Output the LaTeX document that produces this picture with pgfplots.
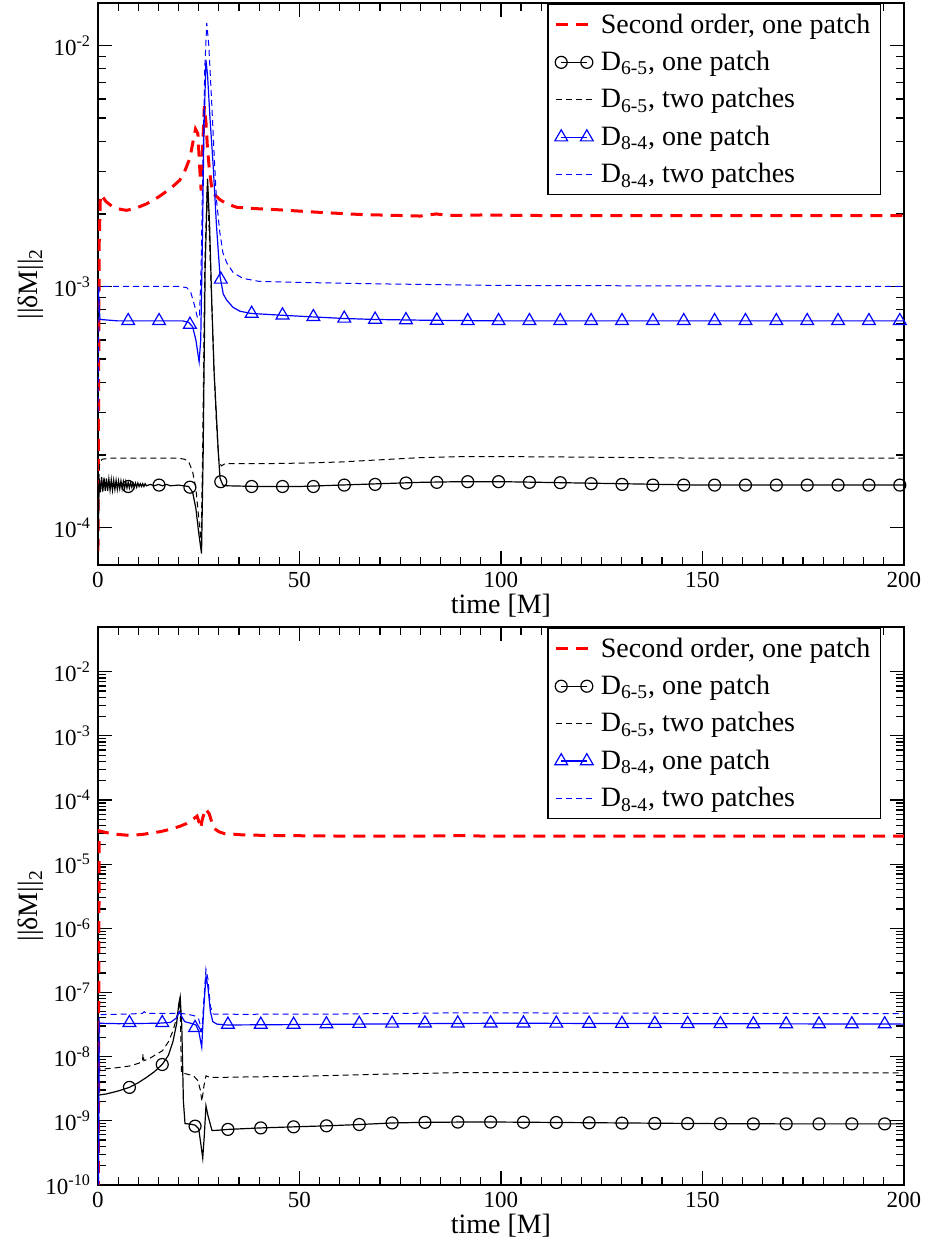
\documentclass[border=0pt]{standalone}
\usepackage{fontspec}
\setmainfont{Liberation Serif}
\usepackage{pgfplots}
\pgfplotsset{compat=1.18}

\definecolor{gred}{RGB}{255,0,0}
\definecolor{gblue}{RGB}{0,0,255}

\pgfplotsset{
  grace/.style={
    scale only axis, width=403pt,
    xmin=0, xmax=200,
    xtick={0,50,100,150,200}, xticklabels={0,50,100,150,200},
    minor x tick num=9,
    tick align=inside, major tick length=7pt, minor tick length=4pt,
    tick style={black, line width=0.6pt},
    axis line style={line width=0.8pt},
    ticklabel style={font=\fontsize{11.5}{13}\selectfont},
    label style={font=\fontsize{14}{16}\selectfont},
    xlabel={time [M]},
    ylabel={||δM||\textsubscript{2}},
    ylabel style={at={(axis description cs:-0.083,0.5)}, anchor=center},
    xlabel style={at={(axis description cs:0.5,0)}, anchor=center, yshift=-20.5pt},
    legend style={at={(axis description cs:0.9715,0.998)}, anchor=north east,
      font=\fontsize{14}{16}\selectfont, draw=black, line width=0.6pt,
      inner xsep=3pt, inner ysep=2.5pt, row sep=3.5pt},
    legend cell align=left,
    legend image code/.code={\draw[mark repeat=2,mark phase=2,##1] plot coordinates {(0cm,0cm)(0.35cm,0cm)(0.7cm,0cm)};},
  },
  mleg/.style={legend image code/.code={\path (0cm,0cm) (0.7cm,0cm); \draw[##1,mark=none] (0.1cm,0cm)--(0.55cm,0cm); \draw[##1] plot coordinates {(0.1cm,0cm)(0.55cm,0cm)};}},
  redd/.style={color=gred, line width=1.5pt, dash pattern=on 6pt off 4pt},
  blk/.style={color=black, line width=0.6pt},
  blkd/.style={color=black, line width=0.5pt, dash pattern=on 3pt off 2pt},
  blu/.style={color=gblue, line width=0.6pt},
  circ/.style={color=black, only marks, mark=o, mark size=3pt, mark options={line width=0.6pt}},
  tri/.style={color=gblue, only marks, mark=triangle, mark size=3.7pt, mark options={line width=0.6pt}},
}

\begin{document}
\begin{tikzpicture}
% ---------------- top panel ----------------
\begin{semilogyaxis}[grace, at={(0,310pt)}, height=281pt, ymin=7e-5, ymax=1.5e-2,
  ytick={1e-4,1e-3,1e-2}, yticklabels={10\textsuperscript{-4},10\textsuperscript{-3},10\textsuperscript{-2}}]
\addplot[redd] coordinates {(0,8e-5) (0.3,1.5e-3) (0.6,2.4e-3) (1.2,2.35e-3) (2,2.25e-3) (3.5,2.15e-3) (5,2.1e-3) (7,2.07e-3) (9,2.1e-3) (12,2.2e-3) (15,2.35e-3) (18,2.55e-3) (20.3,2.76e-3) (21.5,3.0e-3) (22.8,3.4e-3) (23.6,4.0e-3) (24.2,4.5e-3) (24.8,4.3e-3) (25.2,3.2e-3) (25.6,2.5e-3) (25.9,3.5e-3) (26.4,5.6e-3) (26.8,4.8e-3) (27.2,3.7e-3) (27.7,3.0e-3) (28.2,2.6e-3) (29,2.4e-3) (30.3,2.29e-3) (32,2.2e-3) (34.5,2.13e-3) (40,2.1e-3) (45,2.08e-3) (55,2.03e-3) (65,1.99e-3) (75,1.97e-3) (80,1.96e-3) (84,2.0e-3) (87,1.97e-3) (95,1.98e-3) (110,1.97e-3) (130,1.97e-3) (150,1.97e-3) (170,1.97e-3) (200,1.97e-3)};
\addlegendentry{Second order, one patch}
\addplot[blk, forget plot] coordinates {(0,7.5e-5) (0.3,1.6e-4) (0.6,1.40e-4) (0.9,1.62e-4) (1.2,1.41e-4) (1.5,1.61e-4) (1.8,1.42e-4) (2.1,1.6e-4) (2.4,1.42e-4) (2.7,1.59e-4) (3.0,1.43e-4) (3.3,1.58e-4) (3.6,1.43e-4) (3.9,1.57e-4) (4.2,1.44e-4) (4.5,1.57e-4) (4.8,1.44e-4) (5.1,1.56e-4) (5.4,1.45e-4) (5.7,1.56e-4) (6.0,1.45e-4) (6.3,1.55e-4) (6.6,1.45e-4) (6.9,1.55e-4) (7.2,1.46e-4) (7.5,1.54e-4) (7.8,1.46e-4) (8.1,1.54e-4) (8.4,1.47e-4) (8.7,1.53e-4) (9.0,1.47e-4) (9.3,1.53e-4) (9.6,1.47e-4) (9.9,1.53e-4) (10.2,1.48e-4) (10.5,1.52e-4) (10.8,1.48e-4) (11.1,1.52e-4) (11.4,1.48e-4) (11.7,1.52e-4) (12,1.49e-4) (13,1.51e-4) (14,1.49e-4) (15,1.51e-4) (16,1.49e-4) (17,1.51e-4) (18,1.49e-4) (20,1.5e-4) (22.5,1.48e-4) (23.5,1.4e-4) (24.3,1.2e-4) (25,9.5e-5) (25.7,7.8e-5) (26.1,2.0e-4) (26.6,1.2e-3) (27.2,2.8e-3) (27.7,1.8e-3) (28.2,9e-4) (28.8,4.5e-4) (29.4,2.9e-4) (29.9,2.0e-4) (30.3,1.6e-4) (31,1.5e-4) (32,1.49e-4) (40,1.48e-4) (50,1.48e-4) (60,1.5e-4) (70,1.52e-4) (80,1.54e-4) (90,1.55e-4) (100,1.55e-4) (110,1.54e-4) (130,1.52e-4) (150,1.5e-4) (200,1.5e-4)};
\addplot[circ, mleg] coordinates {(7.5,1.48e-4) (15.16,1.5e-4) (22.82,1.47e-4) (30.48,1.55e-4) (38.14,1.48e-4) (45.8,1.48e-4) (53.46,1.48e-4) (61.12,1.5e-4) (68.78,1.51e-4) (76.44,1.53e-4) (84.1,1.54e-4) (91.76,1.55e-4) (99.42,1.55e-4) (107.08,1.54e-4) (114.74,1.535e-4) (122.4,1.52e-4) (130.06,1.51e-4) (137.72,1.5e-4) (145.38,1.5e-4) (153.04,1.5e-4) (160.7,1.5e-4) (168.36,1.5e-4) (176.02,1.5e-4) (183.68,1.5e-4) (191.34,1.5e-4) (199.0,1.5e-4)};
\addlegendentry{D\textsubscript{6-5}, one patch}
\addplot[blkd] coordinates {(0,1.3e-4) (0.4,1.85e-4) (1,1.92e-4) (3,1.94e-4) (20,1.94e-4) (21.5,1.92e-4) (22.5,1.88e-4) (23.5,1.7e-4) (24.3,1.45e-4) (25,1.1e-4) (25.6,8.5e-5) (26,2.2e-4) (26.5,1.2e-3) (27.1,2.6e-3) (27.6,1.7e-3) (28.2,9e-4) (28.8,4.5e-4) (29.4,2.7e-4) (30,1.9e-4) (30.6,1.8e-4) (31.5,1.84e-4) (40,1.84e-4) (50,1.85e-4) (60,1.87e-4) (70,1.91e-4) (80,1.95e-4) (90,1.97e-4) (100,1.97e-4) (120,1.96e-4) (150,1.94e-4) (200,1.94e-4)};
\addlegendentry{D\textsubscript{6-5}, two patches}
\addplot[blu, forget plot] coordinates {(0,1.0e-3) (0.5,7.3e-4) (5,7.2e-4) (21,7.2e-4) (22.5,7.1e-4) (23.5,6.8e-4) (24.3,6.0e-4) (25.1,4.87e-4) (25.5,6.0e-4) (25.9,1.5e-3) (26.3,4.5e-3) (26.8,8.7e-3) (27.2,7.5e-3) (27.8,5e-3) (28.6,3.15e-3) (29.4,1.8e-3) (30.3,1.1e-3) (31.1,9.3e-4) (31.9,8.8e-4) (33.5,8.2e-4) (35.2,7.9e-4) (38,7.73e-4) (45.6,7.6e-4) (53.3,7.48e-4) (60.9,7.37e-4) (68.5,7.3e-4) (80,7.25e-4) (100,7.2e-4) (200,7.2e-4)};
\addplot[tri, mleg] coordinates {(7.5,7.2e-4) (15.16,7.2e-4) (22.82,6.95e-4) (30.48,1.07e-3) (38.14,7.72e-4) (45.8,7.6e-4) (53.46,7.48e-4) (61.12,7.37e-4) (68.78,7.3e-4) (76.44,7.26e-4) (84.1,7.23e-4) (91.76,7.2e-4) (99.42,7.2e-4) (107.08,7.2e-4) (114.74,7.2e-4) (122.4,7.2e-4) (130.06,7.2e-4) (137.72,7.2e-4) (145.38,7.2e-4) (153.04,7.2e-4) (160.7,7.2e-4) (168.36,7.2e-4) (176.02,7.2e-4) (183.68,7.2e-4) (191.34,7.2e-4) (199.0,7.2e-4)};
\addlegendentry{D\textsubscript{8-4}, one patch}
\addplot[color=gblue, line width=0.5pt, dash pattern=on 3pt off 2pt, legend image post style={gblue}] coordinates {(0,3e-4) (0.3,1.0e-3) (5,1.0e-3) (20,1.0e-3) (22,9.9e-4) (23,9.5e-4) (24,8.3e-4) (24.7,7.4e-4) (25.2,7.5e-4) (25.6,1.2e-3) (26,3e-3) (26.5,8e-3) (27,1.24e-2) (27.5,1.0e-2) (28.2,5.9e-3) (28.8,3.6e-3) (29.4,2.3e-3) (30.2,1.7e-3) (31,1.38e-3) (32,1.25e-3) (33.6,1.14e-3) (36,1.08e-3) (40,1.05e-3) (50,1.04e-3) (68.5,1.026e-3) (100,1.01e-3) (200,1.0e-3)};
\addlegendentry{D\textsubscript{8-4}, two patches}
\end{semilogyaxis}
% ---------------- bottom panel ----------------
\begin{semilogyaxis}[grace, at={(0,0)}, height=279pt, ymin=1e-10, ymax=5e-2,
  ytick={1e-10,1e-9,1e-8,1e-7,1e-6,1e-5,1e-4,1e-3,1e-2},
  yticklabels={10\textsuperscript{-10},10\textsuperscript{-9},10\textsuperscript{-8},10\textsuperscript{-7},10\textsuperscript{-6},10\textsuperscript{-5},10\textsuperscript{-4},10\textsuperscript{-3},10\textsuperscript{-2}}]
\addplot[redd] coordinates {(0,1e-12) (0.3,3.3e-5) (2,3.1e-5) (5,2.9e-5) (7.9,2.8e-5) (11,2.9e-5) (15.4,3.2e-5) (18,3.5e-5) (20.4,3.9e-5) (22,4.3e-5) (23.4,4.9e-5) (24.6,5.6e-5) (25.1,4.5e-5) (25.5,3.6e-5) (25.9,5.0e-5) (26.7,7.3e-5) (27.6,6.1e-5) (28.2,4.6e-5) (28.8,3.6e-5) (30,3.2e-5) (31.3,3.0e-5) (36,2.85e-5) (42,2.8e-5) (55,2.75e-5) (70,2.72e-5) (85,2.75e-5) (90,2.78e-5) (95,2.74e-5) (120,2.73e-5) (160,2.72e-5) (200,2.72e-5)};
\addlegendentry{Second order, one patch}
\addplot[blk, forget plot] coordinates {(0,1e-12) (0.1,2.5e-9) (2,2.6e-9) (5,2.9e-9) (7.8,3.3e-9) (10,3.9e-9) (12,4.7e-9) (14,5.8e-9) (16,7.6e-9) (17.5,1.05e-8) (18.6,1.7e-8) (19.5,3.2e-8) (20.1,6.9e-8) (20.4,8.5e-8) (20.8,3e-8) (21.2,2e-9) (21.6,9e-10) (23,8.8e-10) (24.1,8.5e-10) (25,7.5e-10) (25.6,4e-10) (26,2.6e-10) (26.4,6e-10) (26.8,1.7e-9) (27.3,1.2e-9) (28.3,7e-10) (30,7.1e-10) (32.25,7.3e-10) (40.4,7.7e-10) (48.55,8e-10) (56.7,8.3e-10) (65,8.7e-10) (73,9.2e-10) (81,9.4e-10) (90,9.5e-10) (100,9.5e-10) (110,9.4e-10) (130,9.2e-10) (150,9.0e-10) (170,8.9e-10) (200,8.9e-10)};
\addplot[circ, mleg] coordinates {(7.8,3.3e-9) (15.95,7.5e-9) (24.1,8.2e-10) (32.25,7.3e-10) (40.4,7.7e-10) (48.55,8e-10) (56.7,8.3e-10) (64.85,8.7e-10) (73.0,9.2e-10) (81.15,9.4e-10) (89.3,9.5e-10) (97.45,9.5e-10) (105.6,9.45e-10) (113.75,9.35e-10) (121.9,9.25e-10) (130.05,9.15e-10) (138.2,9.05e-10) (146.35,9e-10) (154.5,8.95e-10) (162.65,8.9e-10) (170.8,8.9e-10) (178.95,8.9e-10) (187.1,8.9e-10) (195.25,8.9e-10)};
\addlegendentry{D\textsubscript{6-5}, one patch}
\addplot[blkd] coordinates {(0,1e-12) (0.1,6.3e-9) (4,6.6e-9) (7.8,7.1e-9) (10,7.8e-9) (11,8.3e-9) (11.2,1.1e-8) (11.4,8.6e-9) (13,9.5e-9) (16,1.23e-8) (17.5,1.7e-8) (18.6,2.5e-8) (19.5,4e-8) (20.1,5.9e-8) (20.4,7e-8) (20.7,5.6e-9) (23.7,5e-9) (24.8,4.2e-9) (25.4,3.0e-9) (25.8,2e-9) (26.3,3.5e-9) (26.8,5e-9) (27.8,4.7e-9) (37,4.8e-9) (50,4.9e-9) (70,5.3e-9) (90,5.6e-9) (110,5.65e-9) (150,5.6e-9) (200,5.55e-9)};
\addlegendentry{D\textsubscript{6-5}, two patches}
\addplot[blu, forget plot] coordinates {(0,1e-12) (0.3,3.3e-8) (5,3.25e-8) (15,3.3e-8) (18,3.4e-8) (19.5,4e-8) (20.2,5e-8) (20.8,4.2e-8) (21.5,3.5e-8) (23,3.3e-8) (24.3,3.1e-8) (25,2.5e-8) (25.75,1.4e-8) (26.2,5e-8) (26.8,1.8e-7) (27.3,1.2e-7) (27.9,5e-8) (28.5,3.5e-8) (29.5,3.2e-8) (32,3.1e-8) (50,3.15e-8) (80,3.25e-8) (100,3.3e-8) (150,3.25e-8) (200,3.2e-8)};
\addplot[tri, mleg] coordinates {(7.8,3.35e-8) (15.95,3.35e-8) (24.1,2.8e-8) (32.25,3.15e-8) (40.4,3.15e-8) (48.55,3.15e-8) (56.7,3.2e-8) (64.85,3.25e-8) (73.0,3.28e-8) (81.15,3.3e-8) (89.3,3.3e-8) (97.45,3.3e-8) (105.6,3.3e-8) (113.75,3.28e-8) (121.9,3.27e-8) (130.05,3.25e-8) (138.2,3.25e-8) (146.35,3.23e-8) (154.5,3.22e-8) (162.65,3.2e-8) (170.8,3.2e-8) (178.95,3.2e-8) (187.1,3.2e-8) (195.25,3.2e-8)};
\addlegendentry{D\textsubscript{8-4}, one patch}
\addplot[color=gblue, line width=0.5pt, dash pattern=on 3pt off 2pt, legend image post style={gblue}] coordinates {(0,1e-12) (0.3,4.5e-8) (8,4.6e-8) (11,4.7e-8) (11.5,5.0e-8) (12,4.7e-8) (20,4.7e-8) (22,4.6e-8) (24,4.3e-8) (25,3.8e-8) (25.8,2.5e-8) (26.3,8e-8) (26.8,2.3e-7) (27.3,1.6e-7) (27.9,6e-8) (28.6,4.6e-8) (35,4.55e-8) (60,4.6e-8) (90,4.8e-8) (120,4.75e-8) (200,4.65e-8)};
\addlegendentry{D\textsubscript{8-4}, two patches}
\end{semilogyaxis}
% page margins as in the reference
\path (-49pt,-29.5pt) (412.5pt,592.5pt);
\end{tikzpicture}
\end{document}
